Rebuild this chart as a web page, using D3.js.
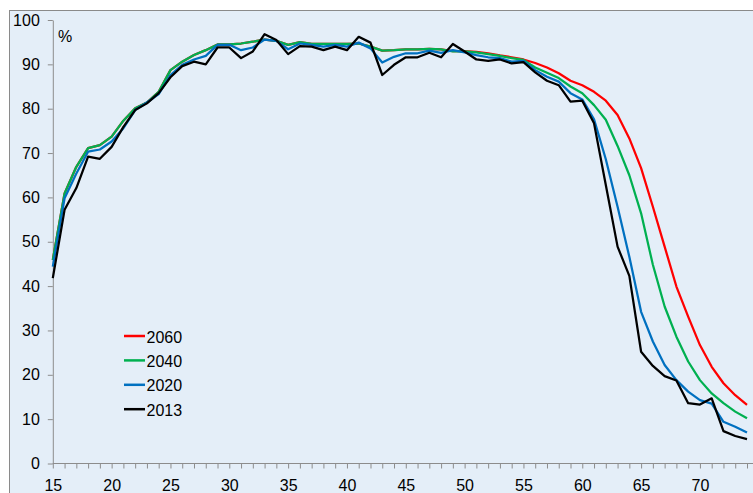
<!DOCTYPE html>
<html>
<head>
<meta charset="utf-8">
<script src="https://cdn.jsdelivr.net/npm/d3@7"></script>
<style>
  body { margin: 0; background: #fff; }
  svg { display: block; font-family: "Liberation Sans", Arial, sans-serif; }
</style>
</head>
<body>
<svg id="chart" width="753" height="493"></svg>
<script>
// ages 15..74
const ages = d3.range(15, 75)

const y2013 = [41.8, 57.2, 62.1, 69.2, 68.7, 71.4, 75.9, 79.7, 81.2, 83.5,
  87.1, 89.6, 90.6, 90.0, 93.8, 93.8, 91.4, 92.9, 96.8, 95.5,
  92.3, 94.1, 94.0, 93.2, 94.0, 93.2, 96.2, 94.9, 87.6, 89.9,
  91.6, 91.6, 92.6, 91.6, 94.6, 92.9, 91.1, 90.8, 91.1, 90.2,
  90.5, 88.2, 86.3, 85.3, 81.6, 81.8, 76.7, 62.8, 48.9, 42.3,
  25.2, 22.0, 19.7, 18.7, 13.6, 13.3, 14.7, 7.3, 6.2, 5.5]

const y2020 = [44.4, 59.8, 65.4, 70.3, 70.8, 72.6, 75.6, 79.7, 81.4, 83.3,
  87.6, 89.9, 91.1, 91.9, 94.4, 94.4, 93.2, 93.8, 95.6, 95.3,
  93.4, 94.7, 94.4, 94.0, 94.4, 94.0, 94.9, 93.6, 90.4, 91.7,
  92.5, 92.5, 93.1, 92.6, 93.2, 92.7, 92.1, 91.6, 91.4, 90.6,
  90.8, 88.7, 87.2, 86.1, 83.5, 82.1, 77.6, 68.6, 57.9, 46.6,
  34.2, 27.5, 22.2, 18.8, 16.2, 14.3, 13.5, 9.4, 8.3, 7.0]

const y2040 = [45.9, 60.9, 66.9, 71.1, 71.8, 73.7, 77.3, 80.1, 81.4, 83.8,
  88.7, 90.6, 92.1, 93.2, 94.5, 94.5, 94.7, 95.1, 95.6, 95.3,
  94.4, 95.0, 94.6, 94.6, 94.6, 94.6, 94.7, 94.0, 93.1, 93.2,
  93.4, 93.4, 93.5, 93.4, 92.9, 92.9, 92.7, 92.3, 91.9, 91.4,
  91.0, 89.3, 88.1, 86.9, 85.0, 83.5, 80.8, 77.5, 71.6, 65.0,
  56.4, 44.8, 35.4, 28.6, 23.0, 18.8, 15.8, 13.6, 11.7, 10.2]

const y2060 = [45.9, 60.9, 66.9, 71.1, 71.8, 73.7, 77.3, 80.1, 81.4, 83.8,
  88.7, 90.6, 92.1, 93.2, 94.5, 94.5, 94.7, 95.1, 95.6, 95.3,
  94.4, 95.0, 94.6, 94.6, 94.6, 94.6, 94.7, 94.0, 93.1, 93.2,
  93.4, 93.4, 93.5, 93.4, 93.0, 93.0, 92.8, 92.5, 92.0, 91.6,
  91.1, 90.3, 89.3, 88.0, 86.3, 85.3, 83.8, 81.8, 78.6, 73.3,
  66.6, 57.9, 48.9, 39.9, 33.1, 26.7, 21.8, 18.1, 15.4, 13.2]

const seriesNames = ['2060', '2040', '2020', '2013']
const seriesColors = ['#ff0000', '#00b050', '#0070c0', '#000000']
const seriesValues = [y2060, y2040, y2020, y2013]

const yTicks = d3.range(0, 101, 10)
const xLabelTicks = d3.range(15, 75, 5)

const svg = d3.select('#chart')
const axisColor = '#8c8c8c'

// chart area background + border (cut off at right/bottom)
svg.append('rect')
  .attr('x', 9.5).attr('y', 10.5)
  .attr('width', 760).attr('height', 500)
  .attr('fill', '#e4eef8')
  .attr('stroke', '#8a8a8a')
  .attr('stroke-width', 1)

const x = d3.scaleLinear().domain([15, 74]).range([52.8, 747])
const y = d3.scaleLinear().domain([0, 100]).range([463.5, 20])

// y axis
const yAxis = svg.append('g')
  .attr('transform', 'translate(52.8,0)')
  .call(d3.axisLeft(y).tickValues(yTicks).tickSize(5).tickSizeOuter(0).tickPadding(8))
yAxis.select('.domain').attr('stroke', axisColor)
yAxis.selectAll('.tick line').attr('stroke', axisColor)
yAxis.selectAll('.tick text')
  .attr('fill', '#000')
  .style('font-size', '16px')
  .attr('font-family', null)

// x axis minor ticks
const xMinor = svg.append('g')
  .attr('transform', 'translate(0,463.5)')
  .call(d3.axisBottom(x).tickValues(ages).tickSize(5).tickSizeOuter(0).tickFormat(''))
xMinor.select('.domain').remove()
xMinor.selectAll('.tick line').attr('stroke', axisColor)

svg.append('line')
  .attr('x1', 52.8).attr('x2', 753)
  .attr('y1', 463.5).attr('y2', 463.5)
  .attr('stroke', axisColor)

const xLab = svg.append('g')
  .attr('transform', 'translate(0,463.5)')
  .call(d3.axisBottom(x).tickValues(xLabelTicks).tickSize(0).tickPadding(16.5))
xLab.select('.domain').remove()
xLab.selectAll('.tick text')
  .attr('fill', '#000')
  .style('font-size', '16px')
  .attr('font-family', null)

svg.append('text')
  .attr('x', 58).attr('y', 42)
  .style('font-size', '16px')
  .text('%')

// lines
const line = d3.line()
  .x((d, i) => x(ages[i]))
  .y(d => y(d))

seriesValues.forEach((vals, k) => {
  svg.append('path')
    .datum(vals)
    .attr('fill', 'none')
    .attr('stroke', seriesColors[k])
    .attr('stroke-width', 2.25)
    .attr('stroke-linejoin', 'round')
    .attr('d', line)
})

// legend
const legend = svg.append('g')
seriesNames.forEach((name, k) => {
  const ly = 336 + k * 24.4
  legend.append('line')
    .attr('x1', 124).attr('x2', 145)
    .attr('y1', ly).attr('y2', ly)
    .attr('stroke', seriesColors[k])
    .attr('stroke-width', 2.5)
  legend.append('text')
    .attr('x', 146.5).attr('y', ly + 6.5)
    .style('font-size', '16px')
    .text(name)
})
</script>
</body>
</html>
